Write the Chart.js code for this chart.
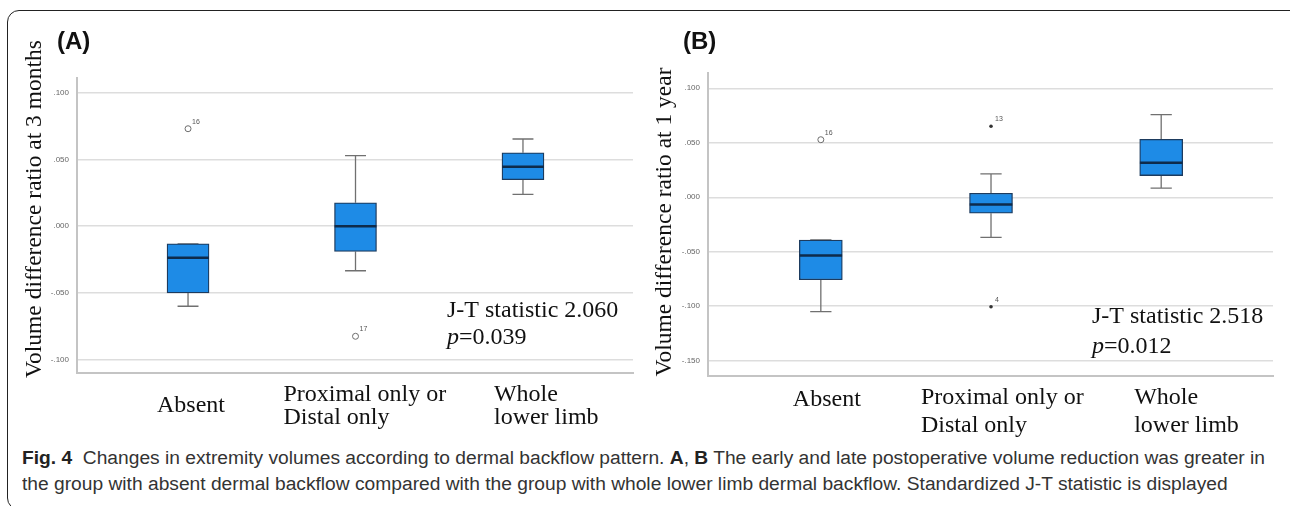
<!DOCTYPE html>
<html>
<head>
<meta charset="utf-8">
<script src="https://cdn.jsdelivr.net/npm/chart.js@4.4.1/dist/chart.umd.min.js"></script>
<style>
  body { margin: 0; width: 1290px; height: 506px; background: #fff; overflow: hidden; position: relative; }
  .frame { position: absolute; left: 7px; top: 10px; width: 1300px; height: 500px; border: 1.3px solid #222; border-radius: 12px; box-sizing: border-box; }
  #cA { position: absolute; left: 0; top: 0; }
  #cB { position: absolute; left: 645px; top: 0; }
  .caption { position: absolute; left: 22px; top: 445px; font-family: "Liberation Sans Narrow", "Liberation Sans", Arial, sans-serif; font-size: 18px; line-height: 26px; color: #333; white-space: nowrap; transform-origin: 0 0; }
  .caption b { color: #222; }
</style>
</head>
<body>
<div class="frame"></div>
<canvas id="cA" width="645" height="440"></canvas>
<canvas id="cB" width="645" height="440"></canvas>
<div class="caption" id="cap">
  <span id="capL1"><b>Fig. 4</b>&nbsp; Changes in extremity volumes according to dermal backflow pattern. <b>A</b>, <b>B</b> The early and late postoperative volume reduction was greater in</span><br>
  <span>the group with absent dermal backflow compared with the group with whole lower limb dermal backflow. Standardized J-T statistic is displayed</span>
</div>
<script>
// categories (x)
const categories = [["Absent"], ["Proximal only or", "Distal only"], ["Whole", "lower limb"]];

// panel A - volume difference ratio at 3 months
const aLow    = [-0.060, -0.0334, 0.0238];
const aQ1     = [-0.050, -0.0190, 0.0348];
const aMedian = [-0.0236, 0.000, 0.0446];
const aQ3     = [-0.0132, 0.0175, 0.0550];
const aHigh   = [-0.0132, 0.0528, 0.0653];
const aOutX   = [0, 1];
const aOutY   = [0.073, -0.0825];
const aOutLbl = ["16", "17"];
const aTicks  = [-0.1, -0.05, 0, 0.05, 0.1];

// panel B - volume difference ratio at 1 year
const bLow    = [-0.105, -0.0368, 0.0083];
const bQ1     = [-0.0757, -0.0147, 0.0199];
const bMedian = [-0.0534, -0.0067, 0.0317];
const bQ3     = [-0.0392, 0.0037, 0.0531];
const bHigh   = [-0.0392, 0.0215, 0.0759];
const bOutX   = [0];
const bOutY   = [0.0528];
const bOutLbl = ["16"];
const bExtX   = [1, 1];
const bExtY   = [0.0651, -0.1004];
const bExtLbl = ["13", "4"];
const bTicks  = [-0.15, -0.1, -0.05, 0, 0.05, 0.1];

const BOX_HALF = 0.125;
const CAP_HALF = 0.0625;
const SERIF = '"Liberation Serif", "Times New Roman", serif';
const SANS = '"Liberation Sans", Arial, sans-serif';

function fmtTick(v) {
  const s = Math.abs(v).toFixed(3).replace(/^0/, "");
  return (v < -1e-9 ? "-" : "") + s;
}

function whiskerPoints(lo, q1, q3, hi) {
  const pts = [];
  lo.forEach((l, i) => {
    pts.push({ x: i, y: q3[i] }, { x: i, y: hi[i] }, { x: i, y: null });
    pts.push({ x: i - CAP_HALF, y: hi[i] }, { x: i + CAP_HALF, y: hi[i] }, { x: i, y: null });
    pts.push({ x: i, y: q1[i] }, { x: i, y: l }, { x: i, y: null });
    pts.push({ x: i - CAP_HALF, y: l }, { x: i + CAP_HALF, y: l }, { x: i, y: null });
  });
  return pts;
}

function medianPoints(med) {
  const pts = [];
  med.forEach((m, i) => {
    pts.push({ x: i - BOX_HALF, y: m }, { x: i + BOX_HALF, y: m }, { x: i, y: null });
  });
  return pts;
}

const annotPlugin = {
  id: "annot",
  afterDraw(chart, args, o) {
    const ctx = chart.ctx;
    const xs = chart.scales.x;
    const area = chart.chartArea;
    ctx.save();

    // panel letter
    ctx.fillStyle = "#111";
    ctx.font = "bold 24px " + SANS;
    ctx.textBaseline = "middle";
    ctx.textAlign = "left";
    ctx.fillText(o.letter, o.letterX, o.letterY);

    // y axis title
    ctx.save();
    ctx.translate(o.titleX, o.titleY);
    ctx.rotate(-Math.PI / 2);
    ctx.font = "23.5px " + SERIF;
    ctx.textAlign = "center";
    ctx.fillText(o.title, 0, 0);
    ctx.restore();

    // category labels
    ctx.font = "24px " + SERIF;
    ctx.textAlign = "left";
    categories.forEach((lines, i) => {
      const x = xs.getPixelForValue(i) + o.labelDx[i];
      if (lines.length === 1) {
        ctx.fillText(lines[0], x, area.bottom + o.singleDy);
      } else {
        lines.forEach((t, k) => ctx.fillText(t, x, area.bottom + o.lineDy[k]));
      }
    });

    // J-T statistic
    ctx.fillText(o.stat, o.statX, o.statY);
    ctx.font = "italic 24px " + SERIF;
    ctx.fillText("p", o.statX, o.statY + o.statGap);
    const pw = ctx.measureText("p").width;
    ctx.font = "24px " + SERIF;
    ctx.fillText(o.pval, o.statX + pw, o.statY + o.statGap);

    // outlier case numbers
    ctx.font = "7px " + SANS;
    ctx.fillStyle = "#555";
    o.outliers.forEach(([dsIndex, labels]) => {
      chart.getDatasetMeta(dsIndex).data.forEach((pt, j) => {
        ctx.fillText(labels[j], pt.x + 4, pt.y - 7);
      });
    });
    ctx.restore();
  }
};

function makeChart(id, p) {
  const datasets = [
    {
      type: "scatter", label: "median", order: 0, showLine: true, spanGaps: false,
      data: medianPoints(p.med), borderColor: "#0e2b4b", borderWidth: 2.5, pointRadius: 0
    },
    {
      type: "scatter", label: "outliers", order: 1,
      data: p.outX.map((x, i) => ({ x: x, y: p.outY[i] })),
      pointRadius: 3, pointBackgroundColor: "#fff", pointBorderColor: "#6d6d6d", pointBorderWidth: 1
    },
    {
      type: "bar", label: "box", order: 2,
      data: p.q1.map((v, i) => ({ x: i, y: [v, p.q3[i]] })),
      backgroundColor: "#1e8be6", borderColor: "#1d3b5e", borderWidth: 1.3, borderSkipped: false,
      barThickness: p.boxW
    },
    {
      type: "scatter", label: "whiskers", order: 3, showLine: true, spanGaps: false,
      data: whiskerPoints(p.lo, p.q1, p.q3, p.hi), borderColor: "#707070", borderWidth: 1.3, pointRadius: 0
    }
  ];
  const outliers = [[1, p.outLbl]];
  if (p.extX) {
    datasets.push({
      type: "scatter", label: "extremes", order: 1,
      data: p.extX.map((x, i) => ({ x: x, y: p.extY[i] })),
      pointRadius: 1.8, pointBackgroundColor: "#333", pointBorderColor: "#333", pointBorderWidth: 0
    });
    outliers.push([4, p.extLbl]);
  }
  p.annot.outliers = outliers;

  return new Chart(document.getElementById(id), {
    type: "scatter",
    data: { datasets: datasets },
    plugins: [annotPlugin],
    options: {
      responsive: false,
      animation: false,
      events: [],
      layout: { padding: p.padding },
      plugins: {
        legend: { display: false },
        tooltip: { enabled: false },
        annot: p.annot
      },
      scales: {
        x: {
          type: "linear", min: -0.663, max: 2.657, offset: false,
          ticks: { display: false },
          grid: { display: false, offset: false },
          border: { display: true, color: "#c4c4c4", width: 2 },
          afterFit: (s) => { s.height = p.xH; }
        },
        y: {
          type: "linear", min: p.yMin, max: p.yMax,
          afterBuildTicks: (s) => { s.ticks = p.ticks.map((v) => ({ value: v })); },
          ticks: {
            callback: (v) => fmtTick(v),
            font: { family: SANS, size: 8 },
            color: "#666",
            padding: 8
          },
          grid: { color: "#dddddd", lineWidth: 1.5, drawTicks: false },
          border: { display: true, color: "#c4c4c4", width: 2 },
          afterFit: (s) => { s.width = p.yW; }
        }
      }
    }
  });
}

makeChart("cA", {
  lo: aLow, q1: aQ1, med: aMedian, q3: aQ3, hi: aHigh,
  outX: aOutX, outY: aOutY, outLbl: aOutLbl, ticks: aTicks,
  yMin: -0.11, yMax: 0.111, boxW: 42,
  padding: { top: 78, right: 12, left: 0, bottom: 0 }, yW: 77, xH: 67,
  annot: {
    letter: "(A)", letterX: 57, letterY: 42,
    title: "Volume difference ratio at 3 months", titleX: 35, titleY: 209,
    labelDx: [-31, -72, -29], singleDy: 33, lineDy: [22, 45],
    stat: "J-T statistic 2.060", pval: "=0.039", statX: 447, statY: 311, statGap: 27
  }
});

makeChart("cB", {
  lo: bLow, q1: bQ1, med: bMedian, q3: bQ3, hi: bHigh,
  outX: bOutX, outY: bOutY, outLbl: bOutLbl,
  extX: bExtX, extY: bExtY, extLbl: bExtLbl, ticks: bTicks,
  yMin: -0.164, yMax: 0.114, boxW: 43,
  padding: { top: 73, right: 17, left: 0, bottom: 0 }, yW: 63, xH: 64,
  annot: {
    letter: "(B)", letterX: 38, letterY: 42,
    title: "Volume difference ratio at 1 year", titleX: 20, titleY: 222,
    labelDx: [-28, -70, -27], singleDy: 24, lineDy: [22, 50],
    stat: "J-T statistic 2.518", pval: "=0.012", statX: 447, statY: 317, statGap: 30
  }
});

// squeeze caption to the width of the original condensed face
const cap = document.getElementById("cap");
const w1 = document.getElementById("capL1").getBoundingClientRect().width;
cap.style.transform = "scaleX(" + (1243 / w1) + ")";
</script>
</body>
</html>
